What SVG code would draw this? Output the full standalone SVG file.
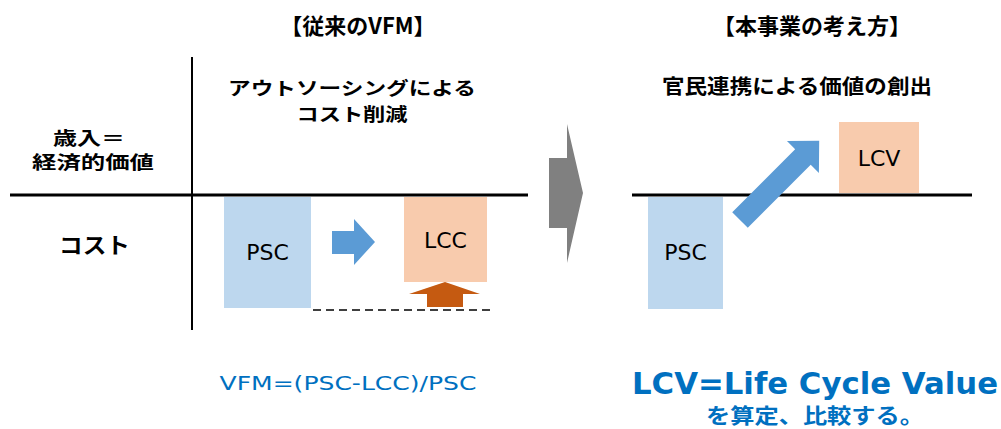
<svg xmlns="http://www.w3.org/2000/svg" width="1001" height="429" viewBox="0 0 1001 429">
<style>
.jp{font-family:"Noto Sans CJK JP","Noto Sans",sans-serif;font-weight:bold;fill:#000;text-anchor:middle}
.lb{font-family:"DejaVu Sans","Noto Sans",sans-serif;font-size:22px;fill:#000;text-anchor:middle}
.axis{stroke:#000;stroke-width:3;fill:none}
.psc{fill:#BDD7EE}
.lcc{fill:#F8CBAD}
.blue{fill:#5B9BD5}
</style>
<g id="titles">
<text class="jp" x="358" y="34" font-size="22">【従来のVFM】</text>
<text class="jp" x="812" y="34" font-size="22">【本事業の考え方】</text>
<text class="jp" x="352" y="94.5" font-size="18" textLength="248" lengthAdjust="spacingAndGlyphs">アウトソーシングによる</text>
<text class="jp" x="352" y="120.5" font-size="18" textLength="111" lengthAdjust="spacingAndGlyphs">コスト削減</text>
<text class="jp" x="797" y="94" font-size="20" textLength="270" lengthAdjust="spacingAndGlyphs">官民連携による価値の創出</text>
<text class="jp" x="89" y="145" font-size="18" textLength="72" lengthAdjust="spacingAndGlyphs">歳入＝</text>
<text class="jp" x="93" y="169" font-size="18" textLength="122" lengthAdjust="spacingAndGlyphs">経済的価値</text>
<text class="jp" x="94.5" y="253" font-size="22" textLength="71" lengthAdjust="spacingAndGlyphs">コスト</text>
</g>
<g id="axes">
<line class="axis" x1="10" y1="195" x2="528" y2="195"/>
<line x1="192" y1="57" x2="192" y2="330" stroke="#000" stroke-width="2"/>
<line class="axis" x1="632" y1="195" x2="972" y2="195"/>
</g>
<g id="psc-left"><rect class="psc" x="224" y="197" width="87" height="111"/><text class="lb" x="267.5" y="260">PSC</text></g>
<g id="lcc"><rect class="lcc" x="404" y="197" width="83" height="85"/><text class="lb" x="445.5" y="248">LCC</text></g>
<g id="psc-right"><rect class="psc" x="648" y="197" width="75" height="112"/><text class="lb" x="685.5" y="260">PSC</text></g>
<g id="lcv"><rect class="lcc" x="839" y="122" width="80" height="71"/><text class="lb" x="879" y="166">LCV</text></g>
<g id="connectors">
<polygon class="blue" points="332,231 354,231 354,219 375,242 354,265 354,254 332,254"/>
<polygon fill="#C55A11" points="427,307 427,294 409,294 445,282 480,294 463,294 463,307"/>
<line x1="313" y1="310" x2="495" y2="310" stroke="#000" stroke-width="1.5" stroke-dasharray="8,5"/>
<polygon fill="#808080" points="549,158 567,158 567,124 583,193 567,263 567,228 549,228"/>
<polygon class="blue" transform="translate(740,220) rotate(-45)" points="0,-11 89,-11 89,-22.6 112,0 89,22.6 89,11 0,11"/>
</g>
<g id="notes">
<text x="348" y="390" font-family="DejaVu Sans,sans-serif" font-size="20" fill="#0070C0" text-anchor="middle" textLength="257" lengthAdjust="spacingAndGlyphs">VFM=(PSC-LCC)/PSC</text>
<text x="815" y="394" font-family="DejaVu Sans,sans-serif" font-weight="bold" font-size="30" fill="#0070C0" text-anchor="middle" textLength="366" lengthAdjust="spacingAndGlyphs">LCV=Life Cycle Value</text>
<text x="815" y="423" font-family="Noto Sans CJK JP,sans-serif" font-weight="bold" font-size="21" fill="#0070C0" text-anchor="middle" textLength="218" lengthAdjust="spacingAndGlyphs">を算定、比較する。</text>
</g>
</svg>
